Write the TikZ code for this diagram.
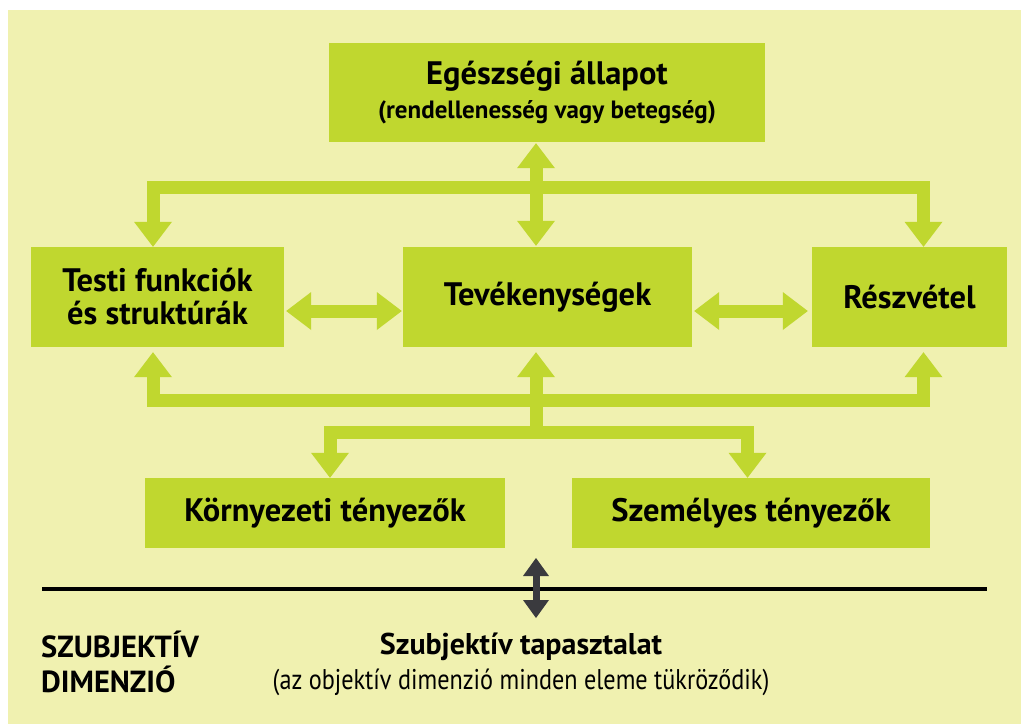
\documentclass[tikz,border=0pt]{standalone}
\usepackage{fontspec}
\setmainfont{PT Sans}
\newfontfamily\condfont{PT Sans}[FakeStretch=0.85]
\usetikzlibrary{arrows.meta}

\definecolor{bgyellow}{RGB}{240,241,176}
\definecolor{boxgreen}{RGB}{192,215,47}
\definecolor{darkarrow}{RGB}{58,58,62}

\tikzset{
  box/.style={fill=boxgreen, inner sep=0pt, align=center,
    font=\bfseries\fontsize{32.5}{33}\selectfont},
  flow/.style={draw=boxgreen, line width=13pt},
  bigtip/.tip={Triangle[width=38pt,length=25pt,line width=0pt]},
  darktip/.tip={Triangle[width=26pt,length=18pt,line width=0pt]}
}

\begin{document}
\begin{tikzpicture}[x=1pt,y=-1pt]

\useasboundingbox (0,0) rectangle (1021,724);
\fill[bgyellow] (8,10) rectangle (1021,724);

% boxes:
\node[box, minimum width=436pt, minimum height=99pt] (health) at (547,92.5)
  {Egészségi állapot\\[1pt]{\fontsize{25}{27}\selectfont(rendellenesség vagy betegség)}};
\node[box, minimum width=253pt, minimum height=100pt] (body) at (157.5,297)
  {Testi funkciók\\és struktúrák};
\node[box, minimum width=289pt, minimum height=100pt] (act) at (547.5,297) {Tevékenységek};
\node[box, minimum width=195pt, minimum height=100pt] (part) at (909.5,297) {Részvétel};
\node[box, minimum width=360pt, minimum height=70pt] (env) at (325,513) {Környezeti tényezők};
\node[box, minimum width=358pt, minimum height=70pt] (pers) at (751,513) {Személyes tényezők};

% green arrows:
\draw[flow, bigtip-bigtip, shorten <=1pt, shorten >=1pt]
  ([xshift=-11pt]health.south) -- ([xshift=-11.5pt]act.north);
\draw[flow, bigtip-bigtip]
  ([xshift=-4.5pt]body.north) -- ++(0,-59) -| ([xshift=14pt]part.north);
\draw[flow, bigtip-bigtip, shorten <=5pt, shorten >=5pt]
  ([xshift=-4.5pt]body.south) -- ++(0,53) -| ([xshift=14pt]part.south);
\draw[flow, bigtip-bigtip, shorten <=2pt, shorten >=1pt]
  ([yshift=-14pt]body.east) -- ([yshift=-14pt]act.west);
\draw[flow, bigtip-bigtip, shorten <=2pt, shorten >=4pt]
  ([yshift=-14pt]act.east) -- ([yshift=-14pt]part.west);
\coordinate (hub) at (536,433);
\draw[flow, -bigtip, shorten >=5pt] (hub) -- ([xshift=-11.5pt]act.south);
\draw[flow, bigtip-bigtip]
  ([xshift=5pt]env.north) -- ++(0,-45) -| ([xshift=-3.5pt]pers.north);

% subjective dimension:
\draw[line width=4pt] (42,589) -- (987,589);
\coordinate (exptop) at (536,558);
\coordinate (expbot) at (536,618);
\draw[darkarrow, line width=7pt, darktip-darktip] (exptop) -- (expbot);

\node[anchor=west, align=left, inner sep=0pt,
  font=\bfseries\fontsize{30.5}{35}\selectfont] (dim) at (41,662) {SZUBJEKTÍV\\DIMENZIÓ};
\node[align=center, inner sep=0pt, font=\bfseries\fontsize{30}{35}\selectfont] (subj) at (521,664)
  {Szubjektív tapasztalat\\{\mdseries\condfont\fontsize{28.5}{35}\selectfont(az objektív dimenzió minden eleme tükröződik)}};

\end{tikzpicture}
\end{document}
